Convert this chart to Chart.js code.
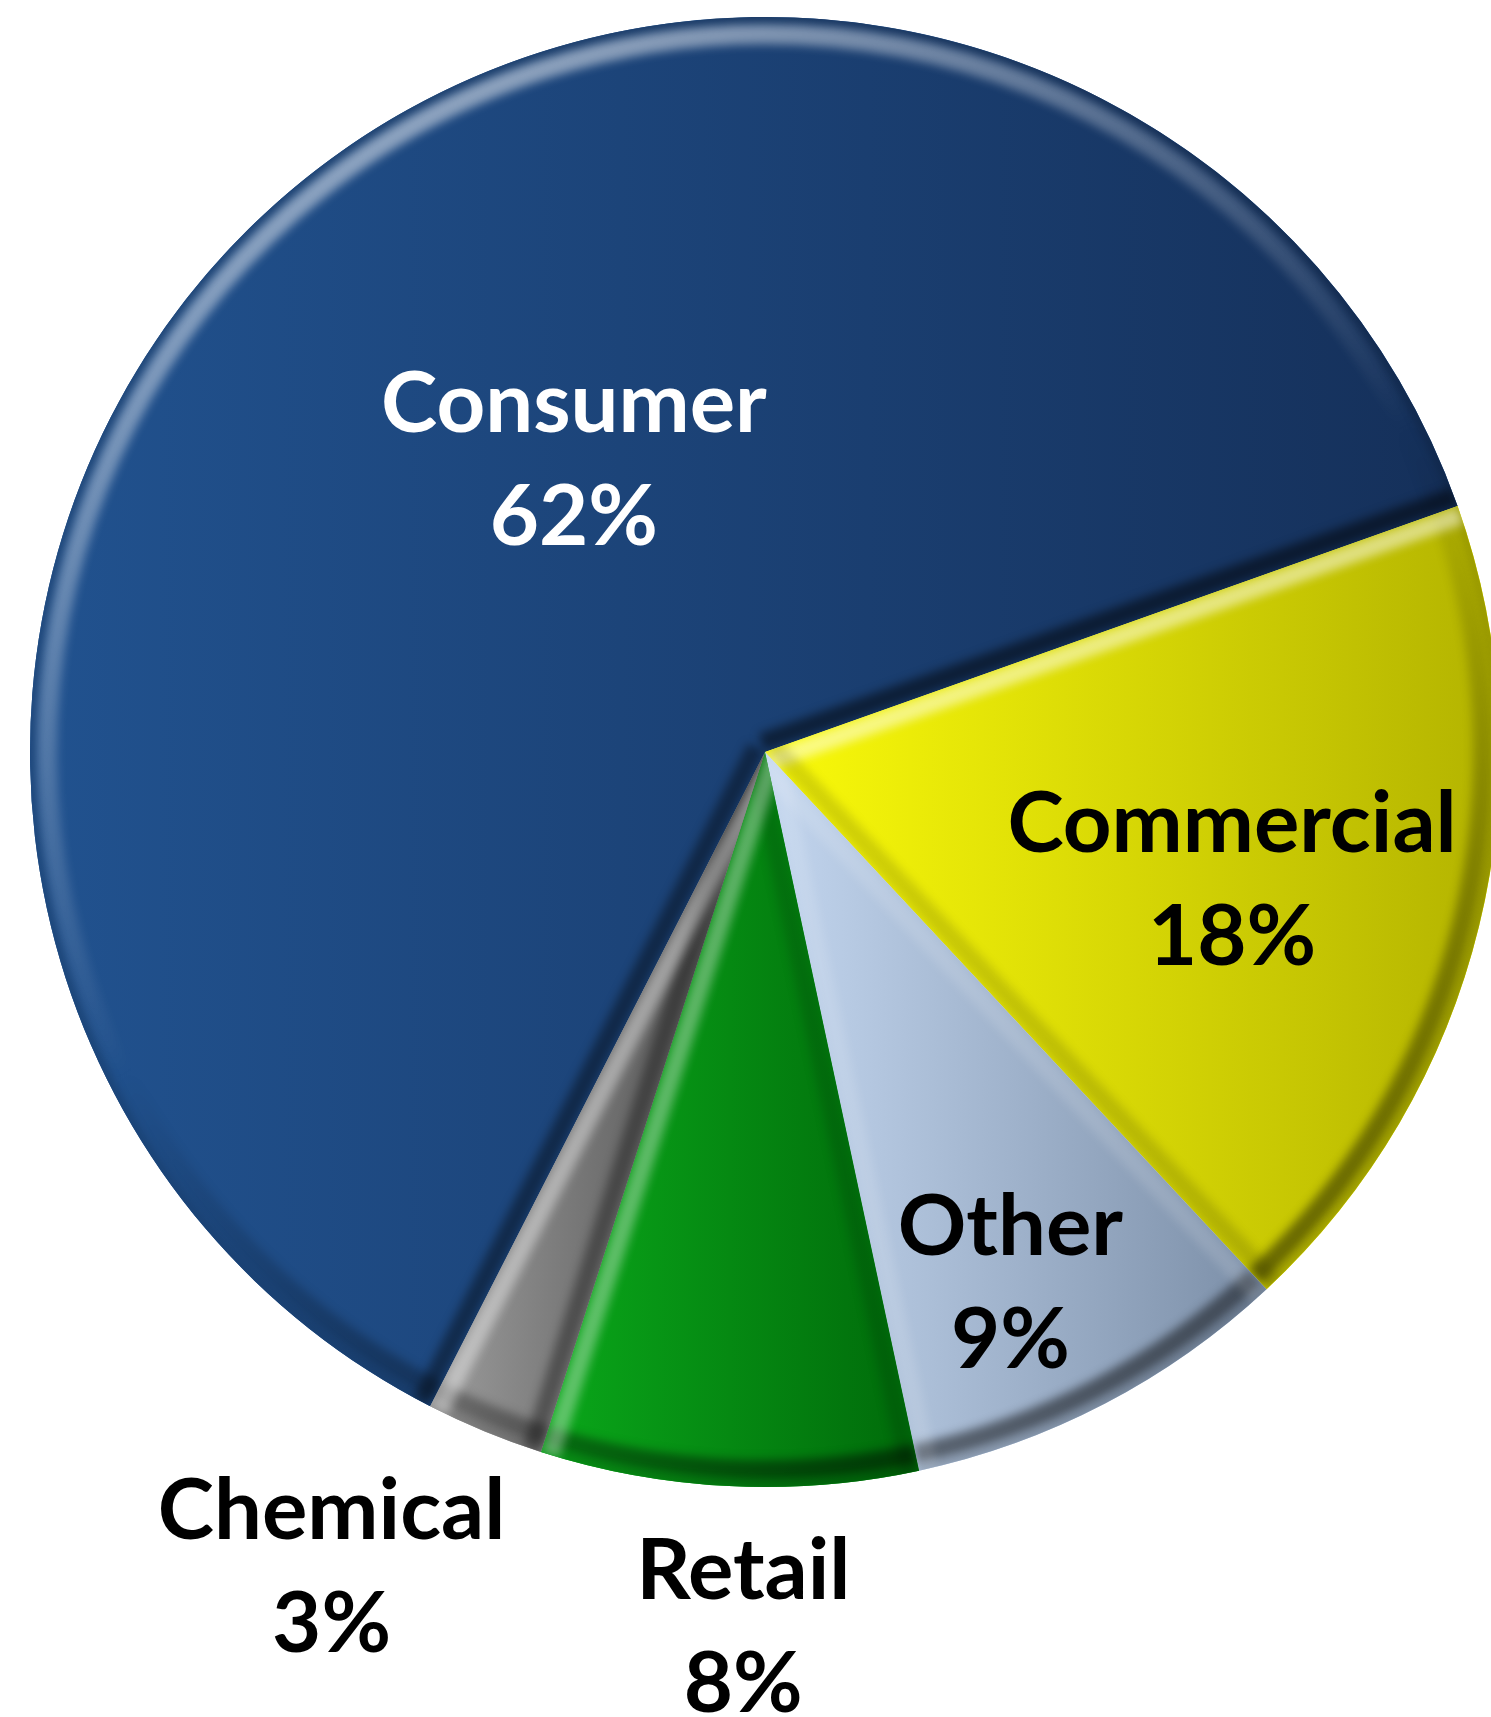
<!DOCTYPE html>
<html>
<head>
<meta charset="utf-8">
<script src="https://cdn.jsdelivr.net/npm/chart.js@4.4.1/dist/chart.umd.min.js"></script>
<style>
    html, body { margin: 0; padding: 0; background: #fff; overflow: hidden; width: 1491px; height: 1717px; }
    #wrap { position: absolute; left: 0; top: 0; width: 1500px; height: 1717px; }
</style>
</head>
<body>
<div id="wrap"><canvas id="pieChart"></canvas></div>
<script>
// données du graphique
const categories = ['Consumer', 'Commercial', 'Other', 'Retail', 'Chemical'];
const shares = [62.1, 18.5, 8.6, 8.3, 2.6];
const shareLabels = ['62%', '18%', '9%', '8%', '3%'];

// styles des parts (couleur claire à gauche, foncée à droite)
const lightColors = ['#21528f', '#fafa0a', '#c3d6ef', '#0aa81a', '#9c9c9c'];
const darkColors = ['#15305a', '#b3b300', '#7b8ea7', '#006a0a', '#484848'];
const textColors = ['#ffffff', '#000000', '#000000', '#000000', '#000000'];
// position des étiquettes : fraction du rayon et décalage d'angle (degrés)
const labelRadius = [0.477, 0.658, 0.794, 1.188, 1.253];
const labelAngleShift = [8.2, 1.35, 2.7, -1.4, 5.65];

const fontSize = 85;
const lineGap = 113;
const light = { x: -0.45, y: -0.89 };

function sliceProps(arc) {
    return arc.getProps(['x', 'y', 'startAngle', 'endAngle', 'outerRadius'], true);
}

// dégradé + effet biseau sur chaque part
const shadePlugin = {
    id: 'shade',
    afterDatasetsDraw(chart) {
        const c = chart.ctx;
        const meta = chart.getDatasetMeta(0);
        meta.data.forEach((arc, i) => {
            const { x, y, startAngle, endAngle, outerRadius: r } = sliceProps(arc);
            let minX = x, maxX = x;
            for (let a = startAngle; a <= endAngle + 0.005; a += 0.005) {
                const px = x + Math.cos(Math.min(a, endAngle)) * r;
                minX = Math.min(minX, px);
                maxX = Math.max(maxX, px);
            }
            c.save();
            c.beginPath();
            c.moveTo(x, y);
            c.arc(x, y, r, startAngle, endAngle);
            c.closePath();
            c.clip();

            const g = c.createLinearGradient(minX, 0, maxX, 0);
            g.addColorStop(0, lightColors[i]);
            g.addColorStop(1, darkColors[i]);
            c.fillStyle = g;
            c.fillRect(minX - 2, y - r - 2, maxX - minX + 4, 2 * r + 4);

            // bord extérieur
            const rg = c.createLinearGradient(x + light.x * r, y + light.y * r, x - light.x * r, y - light.y * r);
            rg.addColorStop(0, 'rgba(255,255,255,0.5)');
            rg.addColorStop(0.5, 'rgba(255,255,255,0)');
            rg.addColorStop(0.5, 'rgba(0,0,0,0)');
            rg.addColorStop(1, 'rgba(0,0,0,0.5)');
            c.filter = 'blur(5px)';
            c.lineWidth = 20;
            c.strokeStyle = rg;
            c.beginPath();
            c.arc(x, y, r - 17, startAngle, endAngle);
            c.stroke();
            c.lineWidth = 6;
            c.strokeStyle = 'rgba(0,0,0,0.25)';
            c.beginPath();
            c.arc(x, y, r - 1, startAngle, endAngle);
            c.stroke();

            // bords radiaux
            [startAngle, endAngle].forEach((a, k) => {
                const nx = k === 0 ? -Math.sin(a) : Math.sin(a);
                const ny = k === 0 ? Math.cos(a) : -Math.cos(a);
                const lit = -(nx * light.x + ny * light.y);
                c.strokeStyle = lit > 0 ? `rgba(255,255,255,${0.5 * lit})` : `rgba(0,0,0,${-0.5 * lit})`;
                c.lineWidth = 18;
                c.beginPath();
                c.moveTo(x + nx * 10, y + ny * 10);
                c.lineTo(x + Math.cos(a) * r + nx * 10, y + Math.sin(a) * r + ny * 10);
                c.stroke();
            });
            c.filter = 'none';
            c.restore();
        });
    }
};

// étiquettes : nom + pourcentage
const labelPlugin = {
    id: 'sliceLabels',
    afterDatasetsDraw(chart) {
        const c = chart.ctx;
        const meta = chart.getDatasetMeta(0);
        meta.data.forEach((arc, i) => {
            const { x, y, startAngle, endAngle, outerRadius: r } = sliceProps(arc);
            const a = (startAngle + endAngle) / 2 + labelAngleShift[i] * Math.PI / 180;
            const d = r * labelRadius[i];
            const lx = x + Math.cos(a) * d;
            const ly = y + Math.sin(a) * d;
            const capOffset = fontSize * 0.358;
            c.save();
            c.font = `bold ${fontSize}px Lato`;
            c.textAlign = 'center';
            c.textBaseline = 'alphabetic';
            c.fillStyle = textColors[i];
            c.fillText(categories[i], lx, ly - lineGap / 2 + capOffset);
            c.fillText(shareLabels[i], lx, ly + lineGap / 2 + capOffset);
            c.restore();
        });
    }
};

const ctx = document.getElementById('pieChart').getContext('2d');
new Chart(ctx, {
    type: 'pie',
    data: {
        labels: categories,
        datasets: [{
            data: shares,
            backgroundColor: lightColors,
            borderWidth: 0
        }]
    },
    options: {
        responsive: true,
        maintainAspectRatio: false,
        animation: false,
        rotation: -152.9,
        layout: { padding: { left: 30, right: 0, top: 17, bottom: 230 } },
        plugins: {
            legend: { display: false },
            tooltip: { enabled: false }
        }
    },
    plugins: [shadePlugin, labelPlugin]
});
</script>
</body>
</html>
